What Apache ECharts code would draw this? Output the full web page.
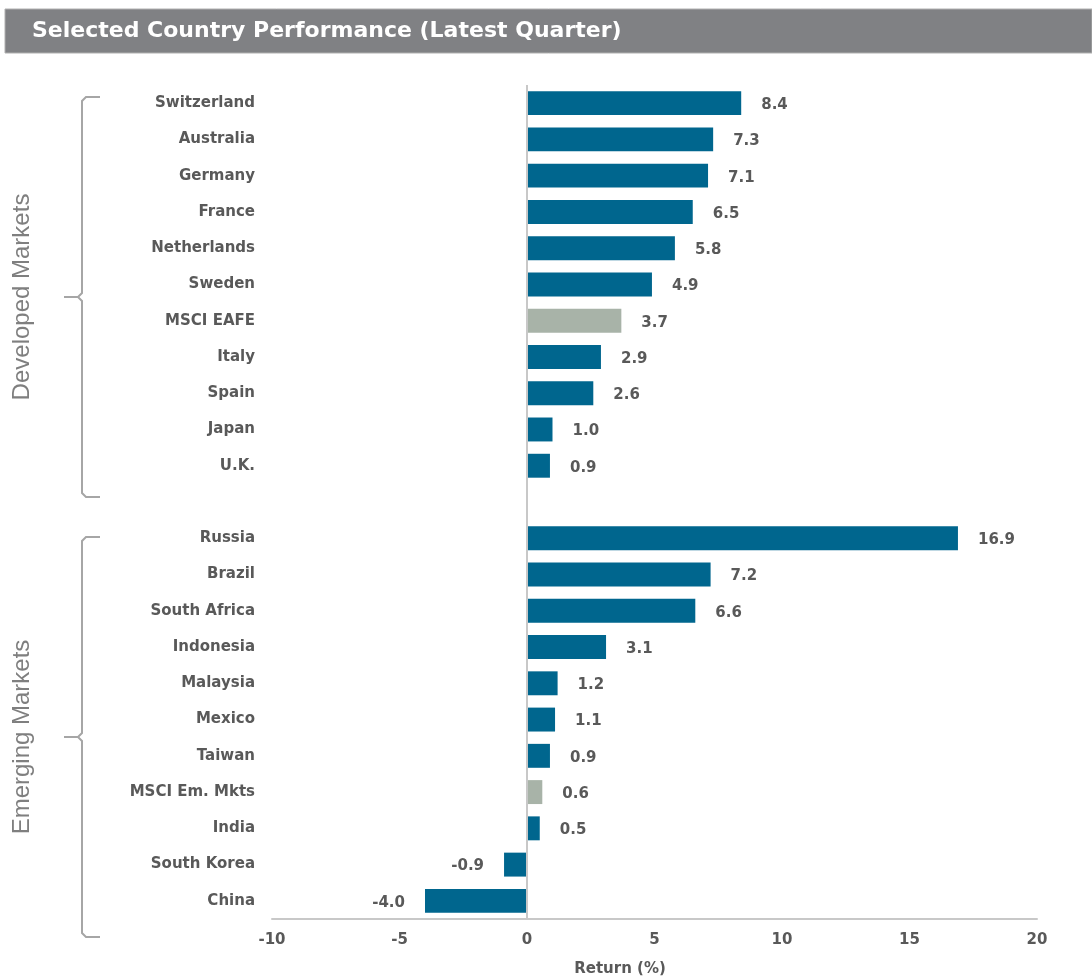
<!DOCTYPE html>
<html><head><meta charset="utf-8">
<script src="https://cdn.jsdelivr.net/npm/echarts@6/dist/echarts.min.js"></script>
<style>html,body{margin:0;padding:0;background:#fff}#c{width:1092px;height:978px}</style>
</head><body><div id="c"></div>
<script>
var categories = ['Switzerland','Australia','Germany','France','Netherlands','Sweden','MSCI EAFE','Italy','Spain','Japan','U.K.','',
  'Russia','Brazil','South Africa','Indonesia','Malaysia','Mexico','Taiwan','MSCI Em. Mkts','India','South Korea','China'];
var values = [8.4,7.3,7.1,6.5,5.8,4.9,3.7,2.9,2.6,1.0,0.9,null,
  16.9,7.2,6.6,3.1,1.2,1.1,0.9,0.6,0.5,-0.9,-4.0];
var indexNames = ['MSCI EAFE','MSCI Em. Mkts'];
var xTicks = [-10,-5,0,5,10,15,20];
var groupLabels = ['Developed Markets','Emerging Markets'];

var BLUE = '#00668E', GREY = '#A8B3A8', TXT = '#595959';
var FONT = '"DejaVu Sans", "Liberation Sans", sans-serif';
var seriesData = values.map(function(v,i){
  if (v === null) return {value: null};
  var isIdx = indexNames.indexOf(categories[i]) >= 0;
  return {value: v, itemStyle: {color: isIdx ? GREY : BLUE},
    label: {position: v < 0 ? 'left' : 'right'}};
});

var chart = echarts.init(document.getElementById('c'));
function bracket(top, bottom){
  var mid = (top + bottom) / 2;
  return {type:'polyline', silent:true, shape:{points:[[100,top],[86,top],[82,top+4],[82,mid-4],[78,mid],[64,mid],[78,mid],[82,mid+4],[82,bottom-4],[86,bottom],[100,bottom]]},
    style:{stroke:'#a6a6a6', lineWidth:2, fill:null}};
}
chart.setOption({
  animation: false,
  grid: {left: 272, right: 1092-1037, top: 85, bottom: 978-919, containLabel: false},
  xAxis: {type:'value', min: xTicks[0], max: xTicks[xTicks.length-1], interval: 5,
    axisLine: {show:true, onZero:false, lineStyle:{color:'#c8c8c8', width:2}},
    axisTick: {show:false}, splitLine: {show:false},
    axisLabel: {color: TXT, fontWeight:'bold', fontSize:15, fontFamily: FONT, margin: 14}},
  yAxis: {type:'category', data: categories, inverse: true,
    axisLine:{show:false}, axisTick:{show:false},
    axisLabel:{color: TXT, fontWeight:'bold', fontSize:15, fontFamily: FONT, margin: 17}},
  series: [{type:'bar', data: seriesData, barWidth: '66%',
    label: {show:true, distance: 20, color: TXT, fontWeight:'bold', fontSize:15, fontFamily: FONT, offset:[0,2],
      formatter: function(p){ return p.value == null ? '' : p.value.toFixed(1); }},
    markLine: {silent:true, symbol:'none', label:{show:false}, lineStyle:{color:'#c8c8c8', width:2, type:'solid'},
      data:[{xAxis:0}]}
  }],
  graphic: [
    {type:'rect', silent:true, shape:{x:5, y:9, width:1087, height:44}, style:{fill:'#808184', stroke:'#b0b0b0', lineWidth:1}},
    {type:'text', silent:true, x:32, y:31, style:{text:'Selected Country Performance (Latest Quarter)', fill:'#fff', font:'bold 22px ' + FONT, verticalAlign:'middle'}},
    bracket(97, 497),
    bracket(537, 937),
    {type:'text', silent:true, x:22, y:297, rotation: Math.PI/2, style:{text: groupLabels[0], fill:'#7f7f7f', font:'24px "Liberation Sans Narrow", "Liberation Sans", Arial, sans-serif', align:'center', verticalAlign:'middle'}},
    {type:'text', silent:true, x:22, y:737, rotation: Math.PI/2, style:{text: groupLabels[1], fill:'#7f7f7f', font:'24px "Liberation Sans Narrow", "Liberation Sans", Arial, sans-serif', align:'center', verticalAlign:'middle'}},
    {type:'text', silent:true, x:620, y:969, style:{text:'Return (%)', fill: TXT, font:'bold 15px ' + FONT, align:'center', verticalAlign:'middle'}}
  ]
});
</script></body></html>
